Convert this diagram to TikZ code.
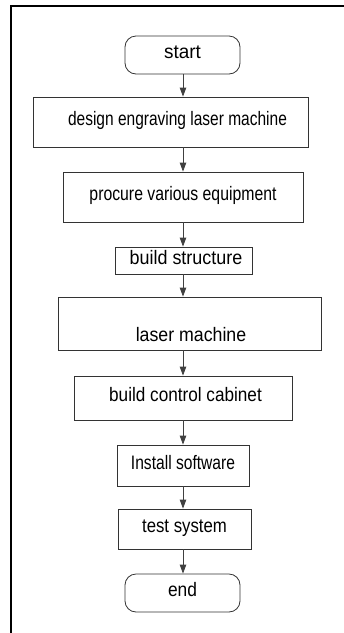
\documentclass[tikz,border=0pt]{standalone}
\usepackage{graphicx}
\usepackage{fontspec}
\setmainfont{Liberation Sans}
\usetikzlibrary{arrows.meta}

% horizontally condensed label text
\newcommand{\narrowtext}[2]{\scalebox{#1}[1]{#2}}

\tikzset{
  box/.style={draw=black!80, line width=0.8pt, inner sep=0pt,
    text height=14pt, text depth=7pt,
    font=\fontsize{19.5}{22}\selectfont},
  terminal/.style={box, rounded corners=11pt},
  txt/.style={inner sep=0pt, text height=14pt, text depth=7pt,
    font=\fontsize{19.5}{22}\selectfont},
  flow/.style={draw=black!75, line width=0.8pt,
    -{Triangle[width=6.5pt,length=9pt]}},
  frame/.style={draw=black, line width=1.5pt}
}

\begin{document}
\begin{tikzpicture}[x=1pt, y=1pt]
  \useasboundingbox (0,0) rectangle (344,-633);

  % surrounding frame (top and left edges)
  \draw[frame] (11,-633) -- (11,-6) -- (344,-6);

  % process steps
  \node[terminal, minimum width=115pt, minimum height=38pt] (start) at (182.5,-55) {\narrowtext{0.97}{start}};
  \node[box, minimum width=275pt, minimum height=50pt] (design) at (170.5,-122) {};
  \node[txt] (designtxt) at (177.5,-122) {\narrowtext{0.795}{design engraving laser machine}};
  \node[box, minimum width=240pt, minimum height=50pt] (procure) at (183,-197) {\narrowtext{0.81}{procure various equipment}};
  \node[box, minimum width=137pt, minimum height=27pt] (structure) at (183.5,-260.5) {\hspace{5pt}\narrowtext{0.92}{build structure}};
  \node[box, minimum width=263pt, minimum height=53pt] (laser) at (189.5,-323.5) {};
  \node[txt] (lasertxt) at (191,-338) {\narrowtext{0.91}{laser machine}};
  \node[box, minimum width=218pt, minimum height=44pt] (cabinet) at (183,-398) {\hspace{5pt}\narrowtext{0.88}{build control cabinet}};
  \node[box, minimum width=132pt, minimum height=41pt] (software) at (183,-465.5) {\narrowtext{0.80}{Install software}};
  \node[box, minimum width=133pt, minimum height=40pt] (test) at (184.5,-529) {\narrowtext{0.86}{test system}\hspace{4pt}};
  \node[terminal, minimum width=115pt, minimum height=38pt] (end) at (182.5,-593) {\narrowtext{0.89}{end}};

  % connectors down the common spine
  \coordinate (spine) at (183,0);
  \draw[flow] (start.south -| spine) -- (design.north -| spine);
  \draw[flow] (design.south -| spine) -- (procure.north -| spine);
  \draw[flow] (procure.south -| spine) -- (structure.north -| spine);
  \draw[flow] (structure.south -| spine) -- (laser.north -| spine);
  \draw[flow] (laser.south -| spine) -- (cabinet.north -| spine);
  \draw[flow] (cabinet.south -| spine) -- (software.north -| spine);
  \draw[flow] (software.south -| spine) -- (test.north -| spine);
  \draw[flow] (test.south -| spine) -- (end.north -| spine);
\end{tikzpicture}
\end{document}
